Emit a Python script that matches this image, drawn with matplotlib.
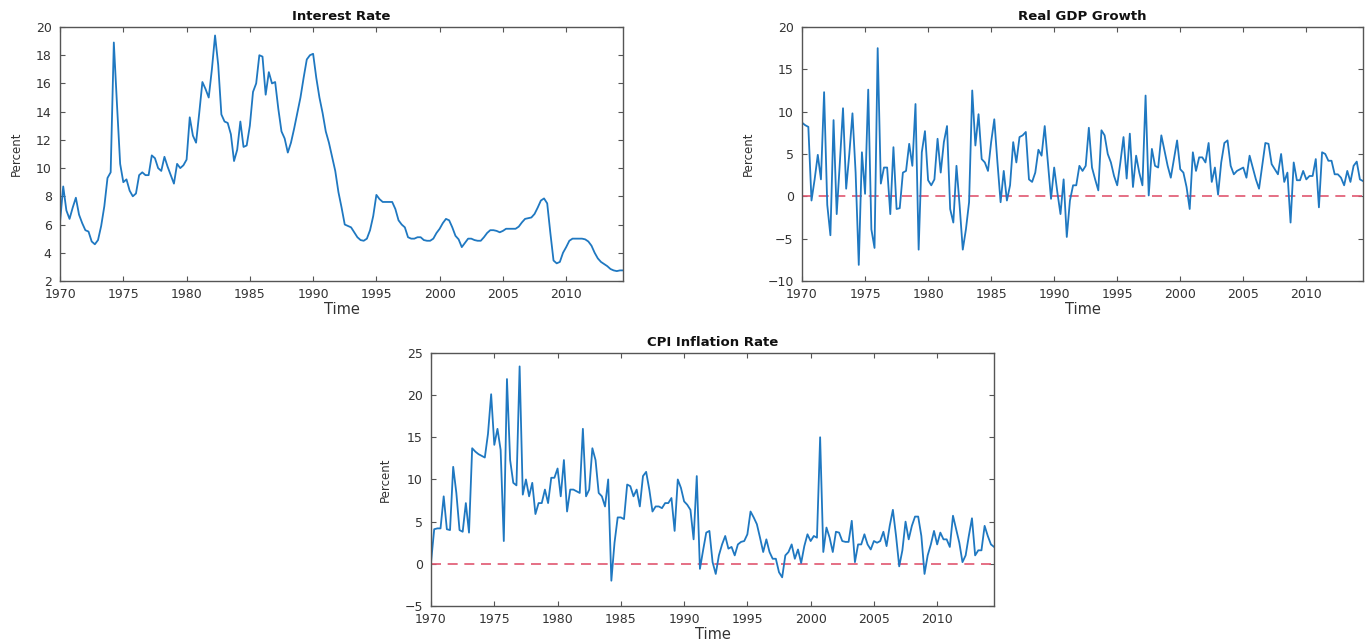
import numpy as np
import matplotlib
matplotlib.use('Agg')
import matplotlib.pyplot as plt

# Quarterly series, 1970Q1 .. 2014Q3
interest_rate = [
    6.2, 8.7, 7.0, 6.4,   7.2, 7.9, 6.7, 6.1,   5.6, 5.5, 4.8, 4.6,   4.9, 5.9, 7.3, 9.3,
    9.7, 18.9, 14.5, 10.3,   9.0, 9.2, 8.4, 8.0,   8.2, 9.5, 9.7, 9.5,   9.5, 10.9, 10.7, 10.0,
    9.8, 10.8, 10.1, 9.5,   8.9, 10.3, 10.0, 10.2,   10.6, 13.6, 12.3, 11.8,   13.9, 16.1, 15.6, 15.0,
    17.0, 19.4, 17.3, 13.8,   13.3, 13.2, 12.4, 10.5,   11.3, 13.3, 11.5, 11.6,   13.0, 15.4, 16.0, 18.0,
    17.9, 15.2, 16.8, 16.0,   16.1, 14.2, 12.6, 12.1,   11.1, 11.8, 12.8, 13.9,   15.0, 16.4, 17.7, 18.0,
    18.1, 16.4, 15.0, 13.9,   12.6, 11.8, 10.8, 9.8,   8.3, 7.2, 6.0, 5.9,   5.8, 5.45, 5.1, 4.9,
    4.85, 5.0, 5.6, 6.6,   8.1, 7.8, 7.6, 7.6,   7.6, 7.6, 7.1, 6.3,   6.0, 5.8, 5.1, 5.0,
    5.0, 5.1, 5.1, 4.9,   4.85, 4.85, 5.0, 5.4,   5.7, 6.1, 6.4, 6.3,   5.8, 5.2, 4.95, 4.4,
    4.7, 5.0, 5.0, 4.9,   4.85, 4.85, 5.1, 5.4,   5.6, 5.6, 5.55, 5.45,   5.55, 5.7, 5.7, 5.7,
    5.7, 5.85, 6.15, 6.4,   6.45, 6.5, 6.75, 7.2,   7.7, 7.85, 7.5, 5.4,   3.45, 3.25, 3.35, 4.0,
    4.4, 4.85, 5.0, 5.0,   5.0, 5.0, 4.95, 4.8,   4.5, 4.0, 3.6, 3.35,   3.2, 3.05, 2.85, 2.75,
    2.7, 2.75, 2.75,
]

gdp_growth = [
    8.7, 8.4, 8.2, -0.5,   2.0, 4.9, 2.0, 12.3,   -1.0, -4.6, 9.0, -2.1,   4.0, 10.4, 0.9, 5.0,
    9.8, 2.8, -8.1, 5.2,   0.3, 12.6, -3.9, -6.1,   17.5, 1.5, 3.4, 3.4,   -2.1, 5.8, -1.5, -1.4,
    2.8, 3.0, 6.2, 3.6,   10.9, -6.3, 5.2, 7.7,   1.9, 1.3, 2.0, 6.8,   2.8, 6.4, 8.3, -1.5,
    -3.1, 3.6, -1.1, -6.3,   -3.9, -0.7, 12.5, 6.0,   9.7, 4.4, 4.0, 3.0,   6.4, 9.1, 4.0, -0.7,
    3.0, -0.5, 1.3, 6.4,   4.0, 7.0, 7.2, 7.6,   2.0, 1.7, 2.8, 5.5,   4.8, 8.3, 4.0, -0.3,
    3.4, 0.5, -2.1, 2.0,   -4.8, -0.5, 1.3, 1.3,   3.6, 3.0, 3.6, 8.1,   3.4, 2.0, 0.7, 7.8,
    7.2, 5.0, 4.0, 2.4,   1.3, 4.0, 7.0, 2.1,   7.4, 1.1, 4.8, 2.8,   1.3, 11.9, 0.1, 5.6,
    3.6, 3.4, 7.2, 5.4,   3.6, 2.2, 4.4, 6.6,   3.2, 2.8, 1.1, -1.5,   5.2, 3.0, 4.6, 4.6,
    4.0, 6.3, 1.7, 3.4,   0.2, 4.0, 6.3, 6.6,   3.6, 2.6, 3.0, 3.2,   3.4, 2.2, 4.8, 3.4,
    2.0, 0.9, 3.6, 6.3,   6.2, 3.8, 3.2, 2.6,   5.0, 1.7, 2.8, -3.1,   4.0, 1.9, 1.9, 3.0,
    2.0, 2.4, 2.4, 4.4,   -1.3, 5.2, 5.0, 4.2,   4.2, 2.6, 2.6, 2.2,   1.3, 3.0, 1.7, 3.6,
    4.1, 2.0, 1.8,
]

cpi_inflation = [
    0.2, 4.1, 4.2, 4.2,   8.0, 4.1, 4.0, 11.5,   8.4, 4.0, 3.8, 7.2,   3.7, 13.7, 13.3, 13.0,
    12.8, 12.6, 15.4, 20.1,   14.1, 16.0, 13.5, 2.7,   21.9, 12.3, 9.6, 9.3,   23.4, 8.2, 10.0, 8.0,
    9.6, 5.9, 7.2, 7.2,   8.8, 7.2, 10.2, 10.2,   11.3, 8.0, 12.3, 6.2,   8.8, 8.8, 8.6, 8.4,
    16.0, 8.0, 8.8, 13.7,   12.3, 8.4, 8.0, 6.8,   10.0, -2.0, 2.5, 5.5,   5.5, 5.3, 9.4, 9.2,
    8.0, 8.8, 6.8, 10.4,   10.9, 8.8, 6.2, 6.8,   6.8, 6.6, 7.2, 7.2,   7.8, 3.9, 10.0, 9.0,
    7.4, 7.0, 6.4, 2.9,   10.4, -0.6, 1.6, 3.7,   3.9, 0.2, -1.2, 1.0,   2.3, 3.3, 1.8, 2.0,
    1.0, 2.3, 2.6, 2.7,   3.5, 6.2, 5.5, 4.7,   3.1, 1.4, 2.9, 1.4,   0.6, 0.6, -1.0, -1.6,
    1.0, 1.4, 2.3, 0.6,   1.7, 0.1, 2.1, 3.5,   2.7, 3.3, 3.1, 15.0,   1.4, 4.3, 3.1, 1.4,
    3.8, 3.7, 2.7, 2.6,   2.6, 5.1, 0.2, 2.3,   2.3, 3.5, 2.3, 1.7,   2.7, 2.5, 2.7, 3.8,
    2.1, 4.5, 6.4, 3.3,   -0.3, 1.6, 5.0, 2.9,   4.5, 5.6, 5.6, 3.3,   -1.2, 1.0, 2.3, 3.9,
    2.3, 3.7, 2.9, 2.9,   2.0, 5.7, 4.1, 2.5,   0.2, 1.0, 3.3, 5.4,   1.0, 1.6, 1.6, 4.5,
    3.3, 2.3, 2.0,
]

years = 1970 + np.arange(len(interest_rate)) / 4.0
year_ticks = list(range(1970, 2011, 5))

line_color = '#1f78c1'
zero_color = '#e0566f'
axis_color = '#555555'
text_color = '#333333'

plt.rcParams['font.family'] = 'DejaVu Sans'

fig = plt.figure(figsize=(13.71, 6.44), dpi=100)


def style_axes(ax, title, yticks):
    ax.set_title(title, fontsize=9.5, fontweight='bold', color='#111111', pad=5)
    ax.set_xlabel('Time', fontsize=10.5, color=text_color, labelpad=1)
    ax.set_ylabel('Percent', fontsize=8.5, color=text_color, labelpad=9)
    ax.set_xlim(1970, 2014.5)
    ax.set_ylim(yticks[0], yticks[-1])
    ax.set_xticks(year_ticks)
    ax.set_yticks(yticks)
    ax.tick_params(direction='in', length=3.5, width=0.8, color=axis_color,
                   labelsize=9, labelcolor=text_color, top=True, right=True)
    ax.tick_params(axis='x', pad=5)
    ax.tick_params(axis='y', pad=6)
    for spine in ax.spines.values():
        spine.set_color(axis_color)
        spine.set_linewidth(1.0)


# Interest rate
ax1 = fig.add_axes([0.0438, 0.5637, 0.4107, 0.3944])
ax1.plot(years, interest_rate, color=line_color, linewidth=1.3)
style_axes(ax1, 'Interest Rate', list(range(2, 21, 2)))

# Real GDP growth
ax2 = fig.add_axes([0.585, 0.5637, 0.4092, 0.3944])
ax2.axhline(0, color=zero_color, linewidth=1.2, linestyle=(0, (6, 4)))
ax2.plot(years, gdp_growth, color=line_color, linewidth=1.3)
style_axes(ax2, 'Real GDP Growth', list(range(-10, 21, 5)))

# CPI inflation
ax3 = fig.add_axes([0.3144, 0.059, 0.4107, 0.393])
ax3.axhline(0, color=zero_color, linewidth=1.2, linestyle=(0, (6, 4)))
ax3.plot(years, cpi_inflation, color=line_color, linewidth=1.3)
style_axes(ax3, 'CPI Inflation Rate', list(range(-5, 26, 5)))

plt.savefig('out.png', dpi=100)
